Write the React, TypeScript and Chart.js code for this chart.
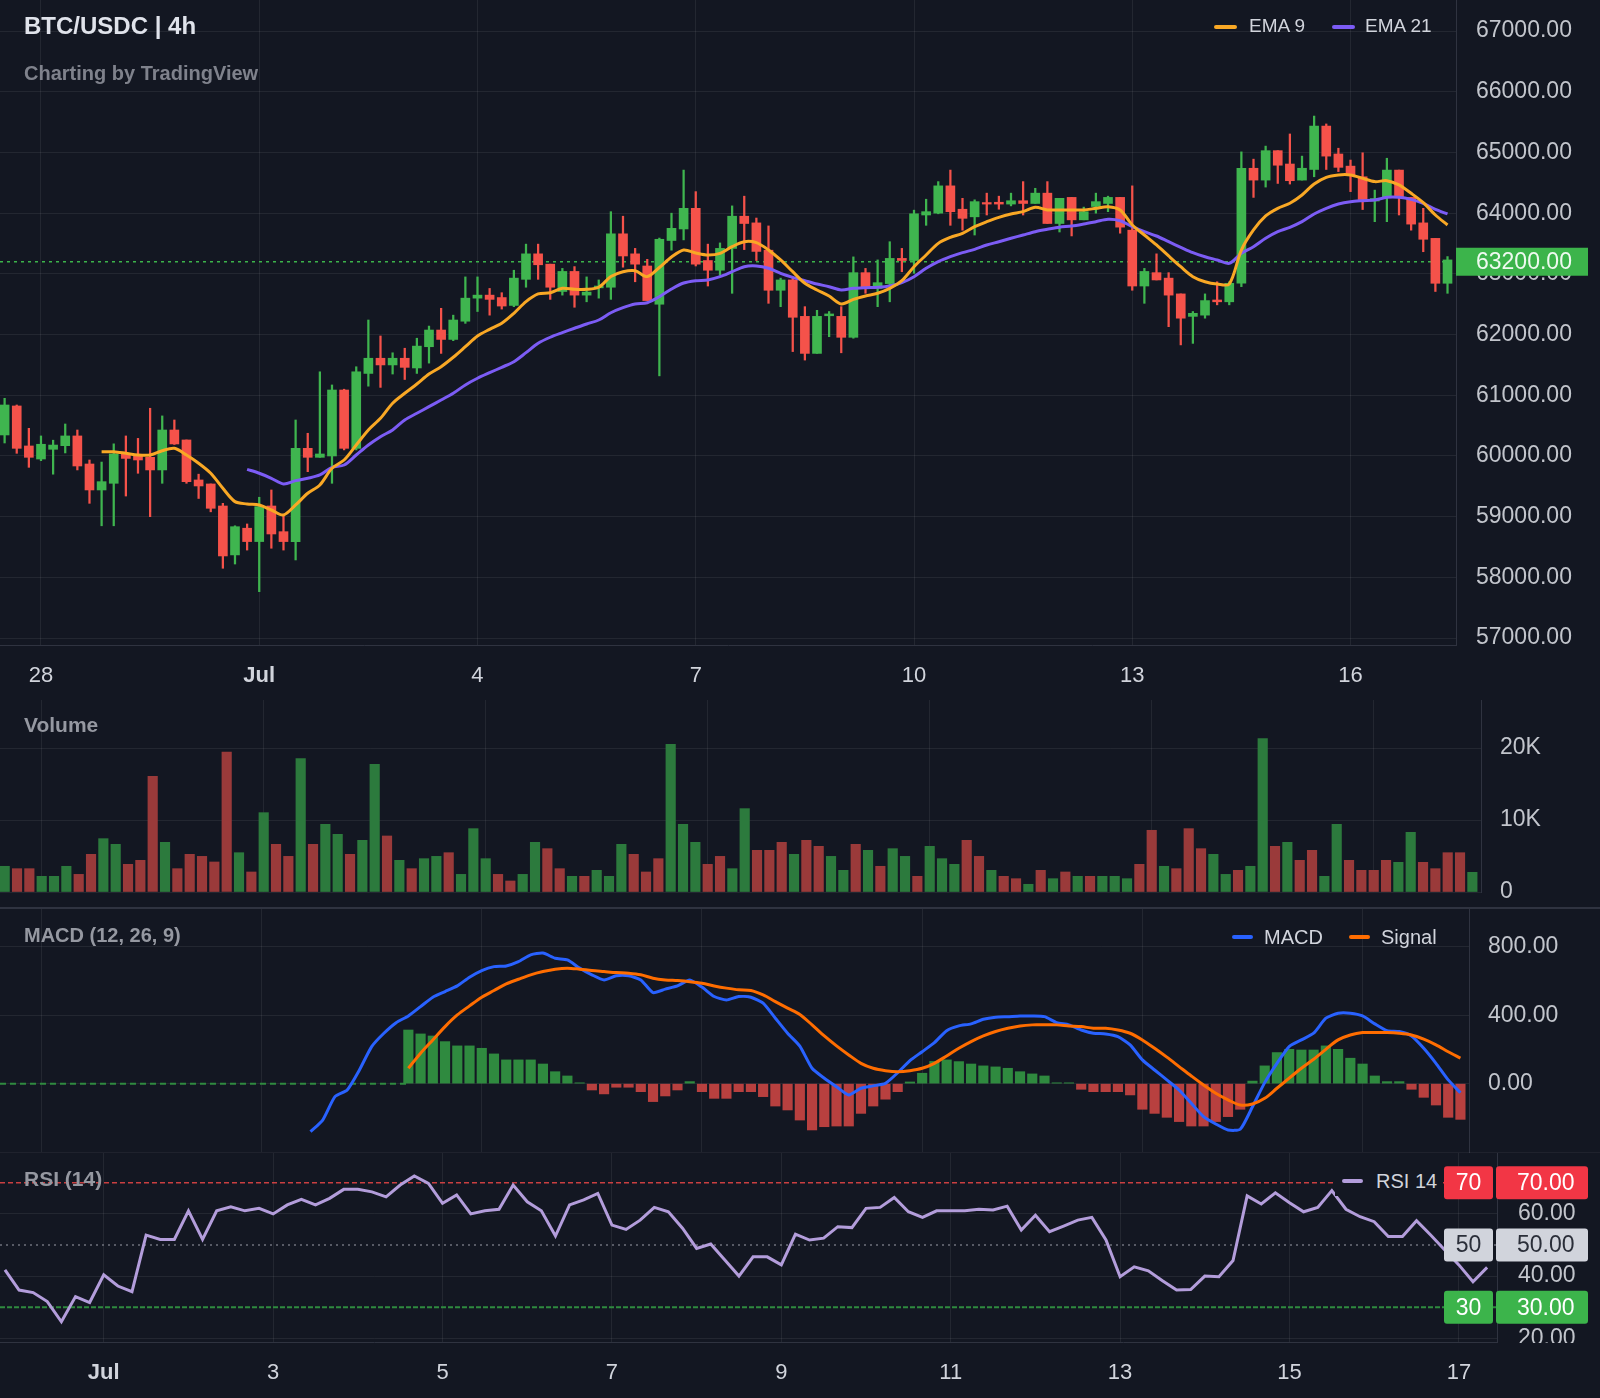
import React, { useEffect, useRef } from 'react';
import { Chart, registerables } from 'chart.js';

Chart.register(...registerables);

const FONT = "'Liberation Sans', Arial, Helvetica, sans-serif";
const BG = '#131722';
const GRID = 'rgba(255,255,255,0.07)';
const BORDER = '#2f3340';
const AXIS_TEXT = '#c2c5cc';
const UP = '#3fb54f';
const DOWN = '#f5524a';
const VOL_UP = '#2c7a3d';
const VOL_DOWN = '#9a3a3a';
const HIST_UP = '#2f8a3f';
const HIST_DOWN = '#b8403f';
const EMA9_COLOR = '#f9a825';
const EMA21_COLOR = '#7c5cf5';
const MACD_COLOR = '#2962ff';
const SIGNAL_COLOR = '#ff6d00';
const RSI_COLOR = '#b39ddb';

// ---------- data (4h candles, index 0 = Jun 27 12:00) ----------
const opens = [60346,60824,60165,59950,60110,60170,60330,59868,59440,59550,60033,60000,59978,59770,60428,60264,59605,59539,59176,58370,58810,58590,59176,58753,58590,60126,59978,60000,61087,60126,61360,61610,61500,61610,61450,61800,62075,61920,62220,62600,62650,62610,62480,62910,63330,63160,62710,63040,62650,62770,62780,63660,63330,63130,62500,63550,63740,64080,63220,63060,63420,63950,63840,63390,62730,62900,62300,61690,62310,62300,61955,63020,62760,62840,63255,63220,63970,64000,64450,64065,63940,64175,64180,64150,64205,64160,64330,63830,64260,63890,64110,64160,64260,63720,62800,63020,62930,62670,62300,62320,62570,62540,62845,64740,64545,65030,64810,64545,64720,65435,64975,64775,64600,64200,64260,64710,64260,63840,63585,62845];
const highs = [60950,60840,60456,60330,60260,60527,60428,59934,59900,60200,60330,60290,60786,60660,60593,60264,59700,59539,59220,58850,58880,59320,59440,59028,60593,60374,61387,61170,61100,61470,62240,61977,61700,61775,61940,62140,62433,62320,62950,62950,62760,62690,63060,63490,63490,63160,63090,63120,62950,62900,64025,63950,63420,63240,63590,64000,64710,64355,63490,63510,64120,64280,63920,63790,62930,62950,62460,62400,62380,62460,63280,63090,63230,63530,63420,64050,64230,64520,64710,64245,64220,64330,64280,64330,64520,64410,64520,64245,64260,64100,64330,64280,64260,64450,63090,63330,63020,62670,62380,62670,62870,62870,65010,64890,65105,65030,65305,64940,65600,65470,65070,64875,64995,64380,64905,64710,64260,64080,63585,63285];
const lows = [60214,60044,59813,59923,59700,60050,59770,59220,58850,58850,59340,59715,59000,59550,60190,59550,59300,59080,58150,58220,58450,57765,58480,58450,58287,59741,59978,59550,60100,60100,61150,61130,61350,61260,61360,61530,61690,61900,62185,62380,62320,62420,62460,62780,62910,62580,62650,62450,62540,62600,62580,63110,62870,62560,61320,63390,63560,63130,62800,62980,62680,63400,63220,62515,62460,61720,61580,61690,61965,61700,61940,62680,62460,62540,63035,63010,63800,63990,63800,63720,63640,63970,64065,64120,63970,64160,63830,63690,63625,63890,64000,64025,63670,62730,62515,62900,62130,61830,61855,62270,62490,62490,62790,64260,64430,64490,64480,64545,64600,64720,64685,64355,64060,63860,63860,63970,63720,63365,62710,62680];
const closes = [60840,60126,59978,60193,60180,60330,59835,59440,59577,60033,59960,59934,59770,60428,60198,59577,59506,59138,58353,58835,58590,59165,58715,58590,60126,59978,60033,61087,60126,61387,61610,61500,61610,61460,61810,62075,61920,62240,62600,62650,62580,62470,62930,63330,63150,62780,63040,62650,62700,62800,63660,63295,63160,62560,63570,63750,64080,63160,63060,63420,63950,63830,63370,62730,62900,62285,61690,62300,62340,61955,63020,62760,62855,63255,63220,63990,64025,64450,64025,63915,64190,64150,64150,64205,64160,64330,63830,64245,63890,64025,64190,64260,63770,62800,63040,62900,62650,62270,62350,62560,62540,62845,64740,64545,65030,64790,64535,64740,65435,64940,64755,64630,64225,64240,64710,64260,63820,63570,62845,63230];
const volumes = [3570,3240,3240,2180,2180,3570,2450,5230,7410,6620,3840,4400,16070,6900,3240,5230,4950,4170,19450,5460,2780,11020,6620,4950,18520,6620,9400,8010,5230,7180,17730,7780,4400,3240,4630,4950,5460,2450,8800,4630,2450,1530,2450,6900,6020,3240,2180,2180,3010,2180,6620,5230,2780,4630,20510,9400,6900,3840,4950,3240,11580,5790,5790,6900,5230,7180,6340,4950,3010,6620,5790,3570,6020,4950,2180,6340,4630,3840,7180,4950,3010,2180,1850,1070,3010,1850,2780,2180,2180,2180,2180,1850,3840,8570,3570,3240,8800,6020,5230,2450,3010,3570,21300,6340,6900,4400,5790,2180,9400,4400,3010,3010,4400,4120,8290,4120,3240,5460,5460,2730];
const lastPrice = 63200;

const ema9Start = 8;
const ema9 = [60070,60070,60044,60016,60016,60087,60126,60016,59880,59715,59468,59248,59210,59193,59110,59028,59193,59386,59522,59797,59934,60181,60428,60621,60870,61033,61186,61350,61471,61626,61800,61977,62087,62186,62350,62543,62670,62690,62763,62746,62746,62779,62955,63036,63053,62955,63105,63278,63393,63345,63311,63338,63448,63530,63514,63393,63229,63036,62845,62735,62635,62504,62580,62635,62680,62762,62888,63118,63311,63503,63602,63668,63778,63860,63932,63987,64025,64097,64053,64053,64053,64053,64080,64107,64053,63805,63640,63476,63295,63118,62954,62871,62833,62833,63393,63723,63954,64080,64163,64300,64481,64591,64630,64630,64575,64520,64536,64465,64327,64173,63970,63805];
const ema21Start = 20;
const ema21 = [59780,59715,59633,59539,59594,59633,59687,59813,59852,60016,60181,60318,60428,60593,60703,60812,60922,61033,61170,61280,61372,61461,61553,61702,61857,61956,62032,62104,62175,62240,62360,62443,62504,62525,62624,62750,62850,62888,62900,62954,63036,63118,63130,63092,63009,62943,62888,62833,62789,62735,62762,62773,62779,62800,62855,62954,63092,63201,63283,63350,63404,63476,63530,63586,63640,63695,63734,63770,63789,63822,63860,63899,63876,63778,63695,63624,63530,63438,63350,63283,63229,63174,63339,63448,63586,63695,63767,63860,63987,64080,64151,64190,64206,64217,64261,64261,64228,64162,64064,63987];

const macdStart = 25;
const macdLine = [-281,-213,-76,-37,80,217,295,357,396,451,506,539,572,623,662,685,689,714,754,764,734,724,676,637,607,631,631,607,533,553,572,607,565,510,490,510,506,471,383,295,220,90,32,-18,-66,-27,-13,2,64,135,187,240,310,338,350,377,389,392,396,396,392,357,344,314,295,291,275,227,139,80,22,-37,-115,-193,-236,-271,-267,-135,6,119,217,256,295,383,412,412,396,350,310,305,279,207,119,22,-53];
const signalStart = 33;
const signalLine = [90,178,256,334,402,455,506,545,584,611,637,656,670,676,670,662,656,650,646,637,617,607,603,597,588,572,559,549,545,519,480,442,405,344,279,221,168,119,90,76,70,76,90,119,162,207,246,279,305,324,338,344,344,344,338,334,324,324,314,295,256,207,155,100,45,-8,-56,-95,-125,-119,-86,-27,32,90,143,201,256,285,299,299,299,295,285,260,227,187,149];
const histStart = 33;
const histogram = [314,291,279,246,221,221,207,174,139,139,139,115,70,45,5,-37,-60,-21,-21,-47,-105,-72,-37,12,-47,-86,-86,-47,-47,-76,-131,-154,-213,-271,-252,-248,-248,-174,-131,-91,-47,10,61,130,139,129,115,104,98,90,70,57,45,5,5,-33,-47,-47,-47,-66,-150,-174,-197,-222,-248,-248,-222,-193,-150,15,104,182,201,197,197,221,201,149,115,45,12,12,-33,-80,-125,-197,-209];

const rsiStart = 14;
const rsi = [42.0,35.5,34.7,31.8,25.3,33.4,31.5,40.4,36.8,35.0,53.2,51.8,51.8,61.0,51.8,61.0,62.3,61.0,61.8,60.0,62.9,64.7,62.9,65.0,67.9,67.9,67.1,65.5,69.3,72.2,69.8,63.4,66.1,60.0,61.0,61.5,69.3,63.9,61.0,52.9,62.9,64.5,66.6,56.4,55.0,58.0,62.1,60.7,55.4,48.9,50.3,45.2,40.0,46.2,46.2,43.6,53.5,51.6,52.2,55.9,55.6,61.8,62.1,65.3,60.7,58.9,61.0,61.0,61.0,61.5,61.3,62.5,54.8,59.6,54.3,56.1,58.0,58.9,51.6,39.8,43.0,41.7,38.5,35.5,35.7,40.0,39.8,45.0,65.8,63.2,66.8,63.6,60.7,62.1,67.5,61.5,59.1,57.5,52.7,52.7,57.8,53.2,48.4,43.6,38.2,42.8];

// ticks
const dateTickIdx = [3, 21, 39, 57, 75, 93, 111];
const dateTickLabels = ['28', 'Jul', '4', '7', '10', '13', '16'];
const rsiTickIdx = [21, 33, 45, 57, 69, 81, 93, 105, 117];
const rsiTickLabels = ['Jul', '3', '5', '7', '9', '11', '13', '15', '17'];
const priceTicks = [57000, 58000, 59000, 60000, 61000, 62000, 63000, 64000, 65000, 66000, 67000];
const volumeTicks = [0, 10000, 20000];
const volumeTickLabels = ['0', '10K', '20K'];
const macdTicks = [0, 400, 800];
const rsiTicks = [20, 40, 60];
const rsiLevels = [70, 50, 30];

// ranges
const X_MIN = -0.38;
const X_MAX = 119.7;
const RSI_X_MIN = 13.65;
const PRICE_MIN = 56886;
const PRICE_MAX = 67512;
const VOL_MAX = 26667;
const MACD_MIN = -400;
const MACD_MAX = 1028;
const RSI_MIN = 18.8;
const RSI_MAX = 79.6;

const idx = opens.map((_, i) => i);
const isUp = (i: number) => closes[i] >= opens[i];

const setTicks = (vals: number[]) => (s: any) => { s.ticks = vals.map((v) => ({ value: v })); };
const fixY = (w: number) => (s: any) => { s.width = w; s.paddingTop = 0; s.paddingBottom = 0; };
const fixX = (h: number) => (s: any) => { s.height = h; s.paddingLeft = 0; s.paddingRight = 0; };
const axisFont = { family: FONT, size: 23 };
const dateFont = (ctx: any) => ({ family: FONT, size: 22, weight: ctx.tick && ctx.tick.label === 'Jul' ? 'bold' : 'normal' });

const baseOptions = () => ({
  responsive: false,
  maintainAspectRatio: false,
  animation: false,
  devicePixelRatio: 1,
  events: [],
  layout: { padding: 0 },
  plugins: { legend: { display: false }, tooltip: { enabled: false } },
});

const hiddenX = (min: number, max: number, h: number) => ({
  type: 'linear', position: 'bottom', min, max, offset: false,
  afterBuildTicks: setTicks(dateTickIdx), afterFit: fixX(h),
  grid: { color: GRID, drawTicks: false, offset: false },
  border: { display: false },
  ticks: { display: false },
});

// hides the part of the right-axis labels that runs below the plot area
const axisClipPlugin = {
  id: 'axisClip',
  afterDraw(chart: any) {
    const { ctx, chartArea } = chart;
    ctx.save();
    ctx.fillStyle = BG;
    ctx.fillRect(chartArea.right + 1, chartArea.bottom + 1, chart.width - chartArea.right, chart.height - chartArea.bottom);
    ctx.restore();
  },
};

const priceLabelPlugin = {
  id: 'priceLabel',
  afterDraw(chart: any) {
    const { ctx, chartArea, scales } = chart;
    const y = scales.y.getPixelForValue(lastPrice);
    ctx.save();
    ctx.fillStyle = '#3cb44b';
    ctx.fillRect(chartArea.right, y - 14, 132, 28);
    ctx.fillStyle = '#effaf0';
    ctx.font = `23px ${FONT}`;
    ctx.textBaseline = 'middle';
    ctx.textAlign = 'left';
    ctx.fillText(lastPrice.toFixed(2), chartArea.right + 20, y + 1);
    ctx.restore();
  },
};

const levelStyle = [
  { bg: '#f23645', fg: '#ffffff' },
  { bg: '#d1d4dc', fg: '#2a2e39' },
  { bg: '#3cb44b', fg: '#ffffff' },
];

function roundBox(ctx: any, x: number, y: number, w: number, h: number, r: number) {
  ctx.beginPath();
  if (ctx.roundRect) ctx.roundRect(x, y, w, h, r); else ctx.rect(x, y, w, h);
  ctx.fill();
}

const rsiBoxPlugin = {
  id: 'rsiBoxes',
  afterDraw(chart: any) {
    const { ctx, scales } = chart;
    ctx.save();
    ctx.font = `23px ${FONT}`;
    ctx.textBaseline = 'middle';
    rsiLevels.forEach((lv, k) => {
      const y = scales.y.getPixelForValue(lv);
      const st = levelStyle[k];
      ctx.fillStyle = st.bg;
      roundBox(ctx, 1444, y - 16.5, 49, 33, 3);
      roundBox(ctx, 1496, y - 16.5, 92, 33, 3);
      ctx.fillStyle = st.fg;
      ctx.textAlign = 'center';
      ctx.fillText(String(lv), 1468.5, y + 1);
      ctx.textAlign = 'left';
      ctx.fillText(lv.toFixed(2), 1517, y + 1);
    });
    ctx.restore();
  },
};

function Txt({ x, cy, size, color, bold, children }: any) {
  return (
    <div style={{ position: 'absolute', left: x, top: cy - size * 0.6, fontSize: size, lineHeight: `${size * 1.2}px`, color, fontWeight: bold ? 700 : 400, whiteSpace: 'nowrap', fontFamily: FONT }}>
      {children}
    </div>
  );
}

function Swatch({ x, cy, w, color }: any) {
  return <div style={{ position: 'absolute', left: x, top: cy - 2, width: w, height: 4, borderRadius: 2, background: color }} />;
}

export default function App() {
  const mainRef = useRef<HTMLCanvasElement | null>(null);
  const volRef = useRef<HTMLCanvasElement | null>(null);
  const macdRef = useRef<HTMLCanvasElement | null>(null);
  const rsiRef = useRef<HTMLCanvasElement | null>(null);

  useEffect(() => {
    const charts: any[] = [];

    charts.push(new Chart(mainRef.current as any, {
      type: 'bar',
      data: {
        datasets: [
          { type: 'line', label: 'EMA 9', data: ema9.map((v, k) => ({ x: ema9Start + k, y: v })), borderColor: EMA9_COLOR, borderWidth: 3, pointRadius: 0, tension: 0.3, order: 0 },
          { type: 'line', label: 'EMA 21', data: ema21.map((v, k) => ({ x: ema21Start + k, y: v })), borderColor: EMA21_COLOR, borderWidth: 3, pointRadius: 0, tension: 0.3, order: 1 },
          { type: 'bar', label: 'body', data: idx.map((i) => ({ x: i, y: [opens[i], closes[i]] })), backgroundColor: idx.map((i) => (isUp(i) ? UP : DOWN)), barThickness: 9, grouped: false, minBarLength: 1.5, order: 2 },
          { type: 'bar', label: 'wick', data: idx.map((i) => ({ x: i, y: [lows[i], highs[i]] })), backgroundColor: idx.map((i) => (isUp(i) ? UP : DOWN)), barThickness: 1.6, grouped: false, order: 3 },
          { type: 'line', label: 'last', data: [{ x: X_MIN, y: lastPrice }, { x: X_MAX, y: lastPrice }], borderColor: '#3cb44b', borderWidth: 1.5, borderDash: [3, 4], pointRadius: 0, order: 4 },
        ],
      } as any,
      options: {
        ...baseOptions(),
        scales: {
          x: {
            type: 'linear', position: 'bottom', min: X_MIN, max: X_MAX, offset: false,
            afterBuildTicks: setTicks(dateTickIdx), afterFit: fixX(55),
            grid: { color: GRID, drawTicks: false, offset: false },
            border: { display: true, color: BORDER },
            ticks: { padding: 18, autoSkip: false, maxRotation: 0, color: '#d1d4dc', font: dateFont, callback: (_v: any, i: number) => dateTickLabels[i] },
          },
          y: {
            type: 'linear', position: 'right', min: PRICE_MIN, max: PRICE_MAX,
            afterBuildTicks: setTicks(priceTicks), afterFit: fixY(144),
            grid: { color: GRID, drawTicks: false },
            border: { display: true, color: BORDER },
            ticks: { padding: 20, color: AXIS_TEXT, font: axisFont, callback: (v: any) => Number(v).toFixed(2) },
          },
        },
      } as any,
      plugins: [axisClipPlugin, priceLabelPlugin],
    }));

    charts.push(new Chart(volRef.current as any, {
      type: 'bar',
      data: {
        datasets: [
          { label: 'Volume', data: idx.map((i) => ({ x: i, y: volumes[i] })), backgroundColor: idx.map((i) => (isUp(i) ? VOL_UP : VOL_DOWN)), barThickness: 9.5, grouped: false },
        ],
      } as any,
      options: {
        ...baseOptions(),
        scales: {
          x: hiddenX(X_MIN, X_MAX, 16),
          y: {
            type: 'linear', position: 'right', min: 0, max: VOL_MAX,
            afterBuildTicks: setTicks(volumeTicks), afterFit: fixY(119),
            grid: { color: GRID, drawTicks: false },
            border: { display: true, color: BORDER },
            ticks: { padding: 19, color: AXIS_TEXT, font: axisFont, callback: (_v: any, i: number) => volumeTickLabels[i] },
          },
        },
      } as any,
    }));

    charts.push(new Chart(macdRef.current as any, {
      type: 'bar',
      data: {
        datasets: [
          { type: 'line', label: 'Signal', data: signalLine.map((v, k) => ({ x: signalStart + k, y: v })), borderColor: SIGNAL_COLOR, borderWidth: 3, pointRadius: 0, tension: 0.3, order: 0 },
          { type: 'line', label: 'MACD', data: macdLine.map((v, k) => ({ x: macdStart + k, y: v })), borderColor: MACD_COLOR, borderWidth: 3, pointRadius: 0, tension: 0.2, order: 1 },
          { type: 'line', label: 'zero', data: [{ x: X_MIN, y: 0 }, { x: histStart, y: 0 }], borderColor: HIST_UP, borderWidth: 2, borderDash: [6, 4], pointRadius: 0, order: 2 },
          { type: 'bar', label: 'Histogram', data: histogram.map((v, k) => ({ x: histStart + k, y: v })), backgroundColor: histogram.map((v) => (v >= 0 ? HIST_UP : HIST_DOWN)), barThickness: 9.5, grouped: false, order: 3 },
        ],
      } as any,
      options: {
        ...baseOptions(),
        scales: {
          x: hiddenX(X_MIN, X_MAX, 1),
          y: {
            type: 'linear', position: 'right', min: MACD_MIN, max: MACD_MAX,
            afterBuildTicks: setTicks(macdTicks), afterFit: fixY(131),
            grid: { color: GRID, drawTicks: false },
            border: { display: true, color: BORDER },
            ticks: { padding: 19, color: AXIS_TEXT, font: axisFont, callback: (v: any) => Number(v).toFixed(2) },
          },
        },
      } as any,
    }));

    charts.push(new Chart(rsiRef.current as any, {
      type: 'line',
      data: {
        datasets: [
          { label: 'RSI 14', data: rsi.map((v, k) => ({ x: rsiStart + k, y: v })), borderColor: RSI_COLOR, borderWidth: 3, pointRadius: 0, tension: 0, order: 0 },
          { label: 'L70', data: [{ x: RSI_X_MIN, y: rsiLevels[0] }, { x: X_MAX, y: rsiLevels[0] }], borderColor: 'rgba(235,70,70,0.85)', borderWidth: 1.5, borderDash: [5, 3], pointRadius: 0, order: 1 },
          { label: 'L50', data: [{ x: RSI_X_MIN, y: rsiLevels[1] }, { x: X_MAX, y: rsiLevels[1] }], borderColor: '#6f727c', borderWidth: 1.5, borderDash: [2, 4], pointRadius: 0, order: 1 },
          { label: 'L30', data: [{ x: RSI_X_MIN, y: rsiLevels[2] }, { x: X_MAX, y: rsiLevels[2] }], borderColor: '#2f8a3f', borderWidth: 2, borderDash: [5, 2], pointRadius: 0, order: 1 },
        ],
      } as any,
      options: {
        ...baseOptions(),
        scales: {
          x: {
            type: 'linear', position: 'bottom', min: RSI_X_MIN, max: X_MAX, offset: false,
            afterBuildTicks: setTicks(rsiTickIdx), afterFit: fixX(56),
            grid: { color: GRID, drawTicks: false, offset: false },
            border: { display: true, color: BORDER },
            ticks: { padding: 18, autoSkip: false, maxRotation: 0, color: '#d1d4dc', font: dateFont, callback: (_v: any, i: number) => rsiTickLabels[i] },
          },
          y: {
            type: 'linear', position: 'right', min: RSI_MIN, max: RSI_MAX,
            afterBuildTicks: setTicks(rsiTicks), afterFit: fixY(103),
            grid: { color: GRID, drawTicks: false },
            border: { display: true, color: BORDER },
            ticks: { padding: 21, color: AXIS_TEXT, font: axisFont, callback: (v: any) => Number(v).toFixed(2) },
          },
        },
      } as any,
      plugins: [axisClipPlugin, rsiBoxPlugin],
    }));

    return () => { charts.forEach((c) => c.destroy()); };
  }, []);

  return (
    <div style={{ position: 'fixed', left: 0, top: 0, width: 1600, height: 1398, background: BG, overflow: 'hidden', fontFamily: FONT }}>
      <canvas ref={mainRef} width={1600} height={700} style={{ position: 'absolute', left: 0, top: 0 }} />
      <canvas ref={volRef} width={1600} height={208} style={{ position: 'absolute', left: 0, top: 700 }} />
      <canvas ref={macdRef} width={1600} height={245} style={{ position: 'absolute', left: 0, top: 908 }} />
      <canvas ref={rsiRef} width={1600} height={245} style={{ position: 'absolute', left: 0, top: 1153 }} />

      <div style={{ position: 'absolute', left: 0, top: 907, width: 1600, height: 2, background: BORDER }} />
      <div style={{ position: 'absolute', left: 0, top: 1152, width: 1600, height: 1, background: 'rgba(255,255,255,0.05)' }} />

      <Txt x={24} cy={26} size={24} color="#e0e3eb" bold>BTC/USDC | 4h</Txt>
      <Txt x={24} cy={72.5} size={20} color="#7f828c" bold>Charting by TradingView</Txt>

      <Swatch x={1214} cy={27} w={23} color={EMA9_COLOR} />
      <Txt x={1249} cy={26.5} size={19} color="#d1d4dc">EMA 9</Txt>
      <Swatch x={1332} cy={27} w={23} color={EMA21_COLOR} />
      <Txt x={1365} cy={26.5} size={19} color="#d1d4dc">EMA 21</Txt>

      <Txt x={24} cy={724.5} size={21} color="#9598a1" bold>Volume</Txt>

      <Txt x={24} cy={935} size={20} color="#9598a1" bold>MACD (12, 26, 9)</Txt>
      <Swatch x={1232} cy={937} w={21} color={MACD_COLOR} />
      <Txt x={1264} cy={937} size={20} color="#d1d4dc">MACD</Txt>
      <Swatch x={1349} cy={937} w={21} color={SIGNAL_COLOR} />
      <Txt x={1381} cy={937} size={20} color="#d1d4dc">Signal</Txt>

      <Txt x={24} cy={1178.5} size={21} color="#9598a1" bold>RSI (14)</Txt>
      <div style={{ position: 'absolute', left: 1335, top: 1166, width: 108, height: 30, background: BG }} />
      <Swatch x={1342} cy={1181} w={21} color={RSI_COLOR} />
      <Txt x={1376} cy={1181} size={20} color="#d1d4dc">RSI 14</Txt>
    </div>
  );
}
